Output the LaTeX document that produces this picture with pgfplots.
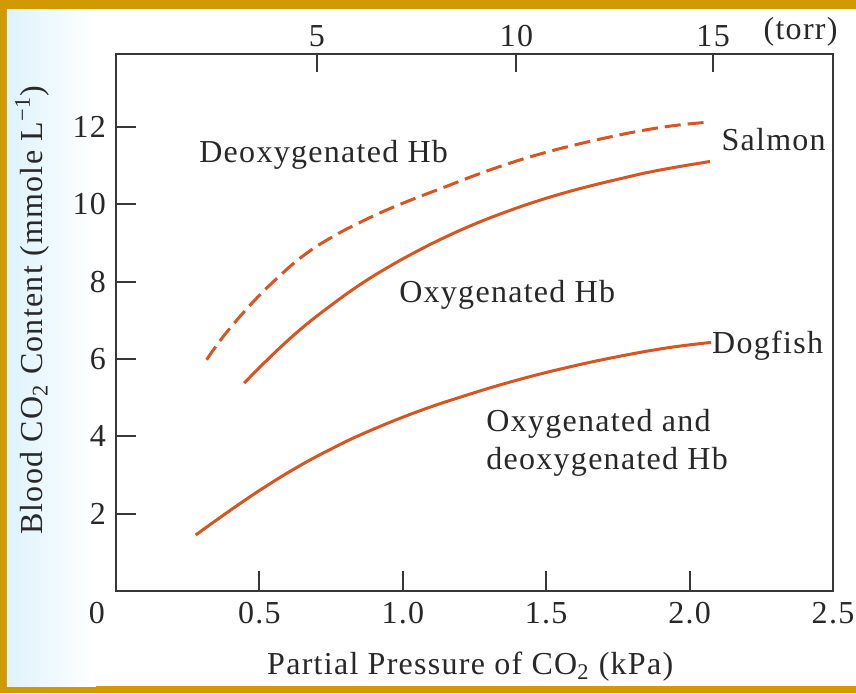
\documentclass[border=0pt]{standalone}
\usepackage{fontspec}
\setmainfont{Liberation Serif}[LetterSpace=4.0]
\usepackage{pgfplots}
\pgfplotsset{compat=1.18}
\definecolor{gold}{RGB}{208,154,0}
\definecolor{curve}{RGB}{214,86,34}
\definecolor{axisgray}{RGB}{55,55,55}
\definecolor{txt}{RGB}{40,40,40}
\definecolor{tint}{RGB}{222,243,251}

\pgfplotstableread{
x y
0.316 5.98
0.376 6.60
0.471 7.42
0.566 8.12
0.658 8.70
0.752 9.15
0.847 9.52
0.939 9.84
1.034 10.13
1.150 10.46
1.255 10.76
1.375 11.07
1.491 11.33
1.607 11.55
1.726 11.75
1.842 11.92
1.958 12.05
2.071 12.13
}\salmondeoxy

\pgfplotstableread{
x y
0.447 5.38
0.55 6.14
0.65 6.81
0.75 7.39
0.85 7.92
0.95 8.38
1.05 8.79
1.15 9.16
1.25 9.49
1.35 9.78
1.45 10.04
1.55 10.27
1.65 10.47
1.75 10.65
1.85 10.82
1.95 10.96
2.071 11.11
}\salmonoxy

\pgfplotstableread{
x y
0.278 1.45
0.401 2.10
0.517 2.68
0.636 3.22
0.752 3.68
0.868 4.09
1.044 4.62
1.220 5.06
1.396 5.45
1.572 5.78
1.748 6.06
1.923 6.29
2.075 6.43
}\dogfish

\begin{document}
\begin{tikzpicture}
\useasboundingbox (-58pt,-51pt) rectangle (370pt,295.5pt);
\fill[gold] (-58pt,-51pt) rectangle (370pt,295.5pt);
\fill[white] (-54.5pt,-47.5pt) rectangle (370pt,291pt);
\shade[left color=tint, right color=white] (-54.5pt,-47.5pt) rectangle (-10pt,291pt);
\pgfplotsset{every axis/.append style={
  font=\fontsize{16pt}{19pt}\selectfont, text=txt,
  /pgf/number format/assume math mode=true}}
\begin{axis}[
  at={(0pt,0pt)}, anchor=south west,
  scale only axis, width=358.5pt, height=268.5pt,
  xmin=0, xmax=2.5, ymin=0, ymax=13.89,
  axis line style={draw=axisgray, line width=1pt},
  tick style={draw=axisgray, line width=1pt},
  tick align=inside, major tick length=10pt,
  xtick={0.5,1,1.5,2,2.5}, xticklabels={0.5,1.0,1.5,2.0,2.5},
  xtick pos=left, ytick pos=left,
  ytick={2,4,6,8,10,12}, yticklabels={2,4,6,8,10,12},
  xticklabel style={yshift=-2pt},
  yticklabel style={xshift=-1.5pt},
  extra x ticks={0}, extra x tick labels={0},
  extra x tick style={major tick length=0pt, xticklabel style={xshift=-9.5pt}},
  xlabel={Partial Pressure of CO\textsubscript{2} (kPa)},
  xlabel style={at={(axis description cs:0.494,-0.14)}, anchor=center},
  ylabel={Blood CO\textsubscript{2} Content (mmole L\textsuperscript{−1})},
  ylabel style={at={(axis description cs:-0.117,0.523)}, anchor=center},
  clip=false,
]
\addplot[curve, line width=1.5pt, dash pattern=on 8pt off 3.5pt, smooth, tension=0.7] table {\salmondeoxy};
\addplot[curve, line width=1.5pt, smooth, tension=0.7] table {\salmonoxy};
\addplot[curve, line width=1.5pt, smooth, tension=0.7] table {\dogfish};
\node at (axis cs:0.724,11.28) {Deoxygenated Hb};
\node at (axis cs:2.293,11.67) {Salmon};
\node at (axis cs:1.364,7.66) {Oxygenated Hb};
\node at (axis cs:2.272,6.34) {Dogfish};
\node[anchor=west, align=left, inner sep=0pt] at (axis cs:1.29,3.83) {Oxygenated and\\deoxygenated Hb};
\node at (axis cs:2.387,14.46) {(torr)};
\end{axis}
\begin{axis}[
  at={(0pt,0pt)}, anchor=south west,
  scale only axis, width=358.5pt, height=268.5pt,
  xmin=0, xmax=2.5, ymin=0, ymax=13.89,
  axis x line*=top, axis y line=none,
  axis line style={draw=axisgray, line width=1pt, -},
  tick style={draw=axisgray, line width=1pt},
  tick align=inside, major tick length=9pt,
  xtick={0.700,1.396,2.082}, xticklabels={5,10,15},
]
\end{axis}
\end{tikzpicture}
\end{document}
